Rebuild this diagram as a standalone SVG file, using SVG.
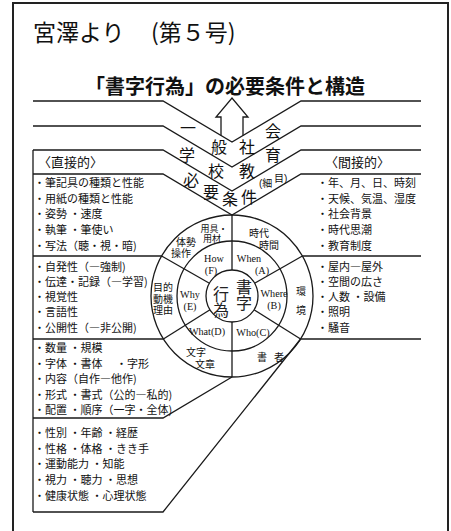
<svg xmlns="http://www.w3.org/2000/svg" width="451" height="531" viewBox="0 0 451 531">
<style>
.ln{fill:none;stroke:#1a1a1a;stroke-width:1.3;stroke-linejoin:miter}
.jp{font-family:"Noto Sans CJK JP","Noto Sans CJK SC",sans-serif;fill:#111}
.lb{font-family:"Liberation Sans","Noto Sans CJK JP","Noto Sans CJK SC",sans-serif;fill:#111}
.li{font-size:11px}
.hd{font-size:13px}
.ch{font-size:16px;text-anchor:middle}
.en{font-family:"Liberation Serif",serif;font-size:10.2px;fill:#111;text-anchor:middle}
.ot{font-size:10px;text-anchor:middle}
.sm{font-size:9px;text-anchor:middle}
</style>
<rect x="0" y="0" width="451" height="531" fill="#ffffff"/>
<rect id="frame" x="13" y="3" width="435" height="545" fill="none" stroke="#222" stroke-width="2"/>
<g id="title">
<text class="jp" x="33" y="41" font-size="23" fill="#333">宮澤より</text>
<text class="jp" x="151" y="41" font-size="23" fill="#333">(第５号)</text>
<text class="jp" x="85" y="94" font-size="20" font-weight="bold">「書字行為」の必要条件と構造</text>
</g>
<g id="connectors" class="ln">
<path d="M33,101 H163 L232,142 L301,101 H421"/>
<path d="M33,126 H163 L232,167 L301,126 H421"/>
<path d="M33,150 H163 L232,191 L301,150 H421"/>
<path d="M33,174 H163 L232,215 L301,174 H421"/>
<path d="M33,150 V512"/>
<path d="M33,256 H161.6"/>
<path d="M33,339 H163.4"/>
<path d="M33,418 H163 L232,377"/>
<path d="M33,512 H163 L300.6,339"/>
<path d="M302.4,256 H421"/>
<path d="M300.6,339 H421"/>
<path id="arrow" d="M221,135.5 V117 H216 L232,98 L248,117 H243 V135.5"/>
</g>
<g id="bands">
<text class="jp ch" x="188" y="134">一</text>
<text class="jp ch" x="219" y="153">般</text>
<text class="jp ch" x="247" y="153">社</text>
<text class="jp ch" x="273" y="137">会</text>
<text class="jp ch" x="187" y="161">学</text>
<text class="jp ch" x="216" y="177">校</text>
<text class="jp ch" x="247" y="177">教</text>
<text class="jp ch" x="273" y="161">育</text>
<text class="jp ch" x="191" y="186">必</text>
<text class="jp ch" x="211" y="198">要</text>
<text class="jp ch" x="230" y="205">条</text>
<text class="jp ch" x="249" y="203">件</text>
<text class="lb" font-size="10"><tspan x="259" y="187">(細</tspan><tspan x="274" y="182">目)</tspan></text>
</g>
<g id="wheel">
<g class="ln">
<circle cx="232" cy="296" r="81"/>
<circle cx="232" cy="296" r="55"/>
<circle cx="232" cy="296" r="26"/>
<path d="M232,270 V215"/>
<path d="M232,322 V377"/>
<path d="M209.4,283.2 L161.6,256"/>
<path d="M254.6,283.2 L302.4,256"/>
<path d="M254,309.8 L300.6,339"/>
<path d="M210,309.8 L163.4,339"/>
</g>
<g id="core" class="jp" font-size="16">
<text x="244" y="279" writing-mode="vertical-rl" fill="#222">書字</text>
<text x="221" y="286" writing-mode="vertical-rl" fill="#222">行為</text>
</g>
<g id="ring-mid">
<text class="en"><tspan x="214" y="261.5">How</tspan><tspan x="211" y="273.5">(F)</tspan></text>
<text class="en"><tspan x="249" y="261.5">When</tspan><tspan x="262" y="273.5">(A)</tspan></text>
<text class="en"><tspan x="274" y="297">Where</tspan><tspan x="274" y="309">(B)</tspan></text>
<text class="en" x="253" y="335.5">Who(C)</text>
<text class="en" x="207" y="334.5">What(D)</text>
<text class="en"><tspan x="190" y="298">Why</tspan><tspan x="190" y="310">(E)</tspan></text>
</g>
<g id="ring-out">
<text class="lb sm"><tspan x="214" y="231.5">用具・</tspan><tspan x="212" y="242">用材</tspan></text>
<text class="lb ot"><tspan x="186" y="245.5">体勢</tspan><tspan x="181" y="257">操作</tspan></text>
<text class="lb ot"><tspan x="259" y="237">時代</tspan><tspan x="269" y="249">時間</tspan></text>
<text class="lb ot"><tspan x="301" y="295">環</tspan><tspan x="301" y="314">境</tspan></text>
<text class="lb ot"><tspan x="262" y="361">書</tspan><tspan x="279" y="361">者</tspan></text>
<text class="lb ot"><tspan x="196" y="356">文字</tspan><tspan x="205" y="368">文章</tspan></text>
<text class="lb ot"><tspan x="163" y="291">目的</tspan><tspan x="163" y="302.5">動機</tspan><tspan x="163" y="314">理由</tspan></text>
</g>
</g>
<g id="direct">
<text class="jp hd" x="38" y="167">〈直接的〉</text>
<g class="jp li">
<text x="34" y="187">・筆記具の種類と性能</text>
<text x="34" y="203">・用紙の種類と性能</text>
<text x="34" y="218">・姿勢 ・速度</text>
<text x="34" y="234">・執筆 ・筆使い</text>
<text x="34" y="250">・写法（聴・視・暗)</text>
<text x="34" y="271">・自発性（―強制)</text>
<text x="34" y="286">・伝達・記録（―学習)</text>
<text x="34" y="301">・視覚性</text>
<text x="34" y="316">・言語性</text>
<text x="34" y="332">・公開性（―非公開)</text>
<text x="34" y="352">・数量 ・規模</text>
<text x="34" y="367.5">・字体 ・書体　 ・字形</text>
<text x="34" y="383">・内容（自作―他作)</text>
<text x="34" y="398.5">・形式 ・書式（公的―私的)</text>
<text x="34" y="414">・配置 ・順序（一字・全体)</text>
<text x="34" y="437">・性別 ・年齢 ・経歴</text>
<text x="34" y="453">・性格 ・体格 ・きき手</text>
<text x="34" y="468">・運動能力 ・知能</text>
<text x="34" y="484">・視力 ・聴力 ・思想</text>
<text x="34" y="500">・健康状態 ・心理状態</text>
</g>
</g>
<g id="indirect">
<text class="jp hd" x="325" y="167">〈間接的〉</text>
<g class="jp li">
<text x="317" y="187">・年、月、日、時刻</text>
<text x="317" y="203">・天候、気温、湿度</text>
<text x="317" y="218">・社会背景</text>
<text x="317" y="234">・時代思潮</text>
<text x="317" y="250">・教育制度</text>
<text x="317" y="271">・屋内―屋外</text>
<text x="317" y="286">・空間の広さ</text>
<text x="317" y="301">・人数 ・設備</text>
<text x="317" y="316">・照明</text>
<text x="317" y="332">・騒音</text>
</g>
</g>
</svg>
